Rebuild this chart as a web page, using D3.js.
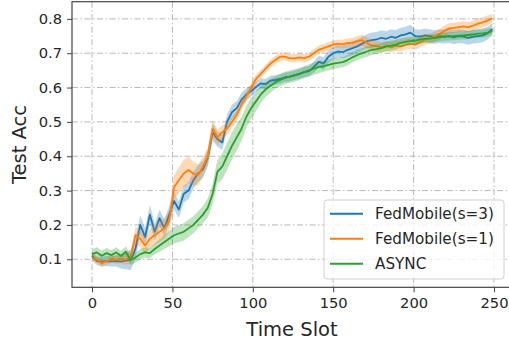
<!DOCTYPE html>
<html>
<head>
<meta charset="utf-8">
<script src="https://cdn.jsdelivr.net/npm/d3@7"></script>
<style>
  body { margin: 0; background: #fff; }
  svg { display: block; font-family: "DejaVu Sans", sans-serif; }
</style>
</head>
<body>
<script>
// time slots
var slots = [0,3,6,9,12,15,18,21,24,27,30,33,36,39,42,45,48,51,54,57,60,63,66,69,72,75,78,81,84,87,90,93,96,99,
  102,105,108,111,114,117,120,123,126,129,132,135,138,141,144,147,150,153,156,159,162,165,168,171,174,177,180,183,186,189,192,195,198,
  201,204,207,210,213,216,219,222,225,228,231,234,237,240,243,246,249];

var fedS3 = [0.110,0.095,0.093,0.095,0.094,0.095,0.093,0.096,0.098,0.130,0.200,0.165,0.230,0.180,0.220,0.190,0.230,0.270,0.245,0.290,0.300,0.330,0.350,0.362,0.395,0.470,0.450,0.440,0.500,0.528,0.540,0.565,0.580,0.590,
  0.602,0.612,0.610,0.620,0.622,0.625,0.630,0.632,0.636,0.640,0.645,0.648,0.660,0.675,0.670,0.690,0.700,0.705,0.703,0.710,0.715,0.720,0.728,0.735,0.738,0.740,0.745,0.742,0.748,0.745,0.752,0.755,0.760,
  0.750,0.748,0.752,0.750,0.747,0.750,0.748,0.750,0.746,0.750,0.748,0.745,0.748,0.750,0.752,0.758,0.770];
var fedS3Spread = [0.012,0.012,0.014,0.015,0.015,0.016,0.020,0.025,0.030,0.030,0.028,0.025,0.028,0.025,0.025,0.025,0.025,0.025,0.025,0.025,0.025,0.025,0.025,0.025,0.025,0.025,0.022,0.022,0.022,0.022,0.020,0.020,0.018,0.016,
  0.015,0.015,0.015,0.015,0.014,0.014,0.014,0.014,0.014,0.014,0.015,0.015,0.016,0.018,0.018,0.018,0.018,0.018,0.018,0.020,0.020,0.020,0.020,0.020,0.022,0.022,0.022,0.022,0.022,0.022,0.022,0.022,0.022,
  0.020,0.020,0.020,0.020,0.020,0.020,0.020,0.020,0.020,0.020,0.020,0.020,0.020,0.020,0.020,0.018,0.018];

var fedS1 = [0.105,0.100,0.088,0.095,0.100,0.100,0.100,0.100,0.105,0.170,0.160,0.140,0.160,0.170,0.180,0.190,0.210,0.310,0.330,0.350,0.360,0.350,0.345,0.370,0.400,0.480,0.455,0.470,0.480,0.500,0.520,0.550,0.575,0.600,
  0.625,0.640,0.655,0.670,0.680,0.690,0.690,0.686,0.685,0.688,0.686,0.690,0.700,0.710,0.715,0.720,0.725,0.728,0.726,0.730,0.730,0.735,0.738,0.730,0.722,0.720,0.718,0.720,0.718,0.722,0.720,0.725,0.728,
  0.725,0.732,0.740,0.742,0.748,0.755,0.765,0.772,0.774,0.776,0.778,0.776,0.780,0.786,0.790,0.795,0.802];
var fedS1Spread = [0.010,0.010,0.010,0.010,0.010,0.012,0.012,0.015,0.020,0.025,0.025,0.025,0.028,0.028,0.030,0.030,0.030,0.035,0.038,0.040,0.038,0.035,0.030,0.028,0.025,0.025,0.022,0.020,0.018,0.016,0.015,0.015,0.014,0.014,
  0.013,0.012,0.012,0.012,0.012,0.012,0.012,0.012,0.012,0.012,0.012,0.012,0.012,0.012,0.012,0.012,0.012,0.012,0.013,0.013,0.014,0.015,0.016,0.016,0.016,0.016,0.015,0.015,0.015,0.015,0.015,0.015,0.015,
  0.015,0.015,0.015,0.015,0.015,0.015,0.015,0.015,0.015,0.015,0.015,0.015,0.015,0.015,0.015,0.015,0.012];

var asyncAcc = [0.115,0.120,0.110,0.118,0.112,0.120,0.110,0.122,0.098,0.105,0.115,0.120,0.118,0.130,0.140,0.150,0.160,0.170,0.175,0.180,0.190,0.200,0.215,0.230,0.250,0.290,0.355,0.370,0.400,0.430,0.455,0.480,0.515,0.540,
  0.560,0.580,0.595,0.605,0.615,0.622,0.628,0.632,0.635,0.640,0.645,0.650,0.655,0.660,0.662,0.666,0.670,0.672,0.674,0.680,0.688,0.695,0.700,0.705,0.710,0.712,0.715,0.720,0.722,0.725,0.730,0.733,0.735,
  0.737,0.740,0.742,0.743,0.744,0.746,0.748,0.749,0.750,0.751,0.752,0.753,0.755,0.757,0.758,0.760,0.764];
var asyncSpread = [0.015,0.015,0.015,0.015,0.015,0.015,0.015,0.015,0.015,0.015,0.015,0.015,0.015,0.016,0.018,0.020,0.022,0.024,0.025,0.025,0.025,0.025,0.025,0.025,0.028,0.030,0.035,0.038,0.040,0.040,0.038,0.035,0.032,0.030,
  0.028,0.025,0.022,0.020,0.018,0.018,0.018,0.018,0.018,0.018,0.018,0.018,0.018,0.018,0.016,0.016,0.016,0.015,0.015,0.015,0.015,0.015,0.015,0.015,0.015,0.014,0.014,0.014,0.014,0.014,0.013,0.013,0.012,
  0.012,0.012,0.012,0.012,0.012,0.012,0.012,0.012,0.012,0.012,0.012,0.012,0.012,0.012,0.012,0.012,0.010];

var seriesNames = ["FedMobile(s=3)", "FedMobile(s=1)", "ASYNC"];
var seriesColors = ["#1f77b4", "#ff7f0e", "#2ca02c"];
var xTicks = [0, 50, 100, 150, 200, 250];
var yTicks = [0.1, 0.2, 0.3, 0.4, 0.5, 0.6, 0.7, 0.8];

(function () {
    var width = 509, height = 344;
    var left = 72, right = 512.4, plotTop = 1.7, bottom = 287.3;

    var svg = d3.select("body").append("svg")
        .attr("width", width)
        .attr("height", height);

    var xScale = d3.scaleLinear().domain([-12.45, 261.45]).range([left, right]);
    var yScale = d3.scaleLinear().domain([0.0184, 0.850]).range([bottom, plotTop]);

    // grid
    svg.append("g").selectAll("line")
        .data(xTicks)
        .enter().append("line")
        .attr("x1", function(d) { return xScale(d); })
        .attr("x2", function(d) { return xScale(d); })
        .attr("y1", plotTop).attr("y2", bottom)
        .attr("stroke", "#b8b8b8").attr("stroke-width", 1)
        .attr("stroke-dasharray", "6,2.5,1.5,2.5");
    svg.append("g").selectAll("line")
        .data(yTicks)
        .enter().append("line")
        .attr("y1", function(d) { return yScale(d); })
        .attr("y2", function(d) { return yScale(d); })
        .attr("x1", left).attr("x2", right)
        .attr("stroke", "#b8b8b8").attr("stroke-width", 1)
        .attr("stroke-dasharray", "6,2.5,1.5,2.5");

    var allSeries = [
        { mean: fedS3, spread: fedS3Spread },
        { mean: fedS1, spread: fedS1Spread },
        { mean: asyncAcc, spread: asyncSpread }
    ];

    var plot = svg.append("g");
    allSeries.forEach(function(s, k) {
        var pts = slots.map(function(t, i) {
            return { t: t, m: s.mean[i], lo: s.mean[i] - s.spread[i], hi: s.mean[i] + s.spread[i] };
        });
        var area = d3.area()
            .x(function(d) { return xScale(d.t); })
            .y0(function(d) { return yScale(d.lo); })
            .y1(function(d) { return yScale(d.hi); });
        var line = d3.line()
            .x(function(d) { return xScale(d.t); })
            .y(function(d) { return yScale(d.m); });
        plot.append("path")
            .datum(pts)
            .attr("d", area)
            .attr("fill", seriesColors[k])
            .attr("fill-opacity", 0.3);
        plot.append("path")
            .datum(pts)
            .attr("d", line)
            .attr("fill", "none")
            .attr("stroke", seriesColors[k])
            .attr("stroke-width", 1.8)
            .attr("stroke-linejoin", "round");
    });

    // axes
    var xAxis = d3.axisBottom(xScale).tickValues(xTicks).tickSize(5).tickPadding(5).tickFormat(d3.format("d"));
    var yAxis = d3.axisLeft(yScale).tickValues(yTicks).tickSize(5).tickPadding(5).tickFormat(d3.format(".1f"));

    var gx = svg.append("g")
        .attr("transform", "translate(0," + bottom + ")")
        .call(xAxis);
    var gy = svg.append("g")
        .attr("transform", "translate(" + left + ",0)")
        .call(yAxis);

    [gx, gy].forEach(function(g) {
        g.select(".domain").remove();
        g.selectAll(".tick line").attr("stroke", "#444").attr("stroke-width", 1);
        g.selectAll(".tick text")
            .attr("fill", "#262626")
            .style("font-size", "14.7px")
            .style("font-family", "DejaVu Sans");
    });

    // spines
    svg.append("rect")
        .attr("x", left).attr("y", plotTop)
        .attr("width", right - left).attr("height", bottom - plotTop)
        .attr("fill", "none")
        .attr("stroke", "#444").attr("stroke-width", 1.2);

    // labels
    svg.append("text")
        .attr("x", 292).attr("y", 336)
        .attr("text-anchor", "middle")
        .style("font-size", "19.5px")
        .attr("fill", "#262626")
        .text("Time Slot");
    svg.append("text")
        .attr("transform", "translate(26," + ((plotTop + bottom) / 2) + ") rotate(-90)")
        .attr("text-anchor", "middle")
        .style("font-size", "19.5px")
        .attr("fill", "#262626")
        .text("Test Acc");

    // legend
    var legend = svg.append("g").attr("transform", "translate(324,200)");
    legend.append("rect")
        .attr("width", 180).attr("height", 79)
        .attr("rx", 3).attr("ry", 3)
        .attr("fill", "#fff").attr("fill-opacity", 0.8)
        .attr("stroke", "#d0d0d0").attr("stroke-width", 1);
    seriesNames.forEach(function(name, i) {
        var y = 13.7 + i * 25;
        legend.append("line")
            .attr("x1", 6).attr("x2", 39)
            .attr("y1", y).attr("y2", y)
            .attr("stroke", seriesColors[i]).attr("stroke-width", 2);
        legend.append("text")
            .attr("x", 51).attr("y", y + 5.3)
            .style("font-size", "15.2px")
            .attr("fill", "#262626")
            .text(name);
    });
})();
</script>
</body>
</html>
